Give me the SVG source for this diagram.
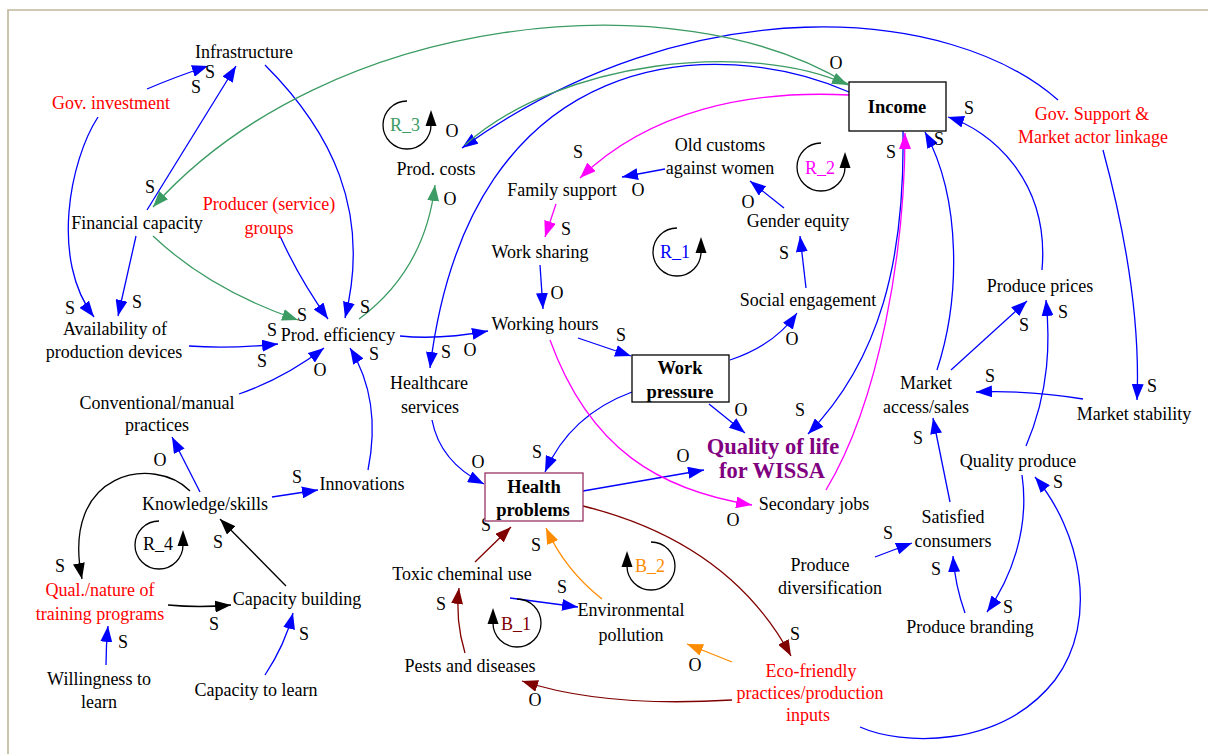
<svg xmlns="http://www.w3.org/2000/svg" width="1208" height="754" viewBox="0 0 1208 754" font-family="Liberation Serif, DejaVu Serif, serif">
<style>
text{font-family:'Liberation Serif','DejaVu Serif',serif;font-size:18px;fill:#000;text-anchor:middle}
.red{fill:#ff0000}
.bold{font-weight:bold;font-size:18.5px}
.qol{font-weight:bold;font-size:22.5px;fill:#800080}
.box{fill:#fff;stroke:#000;stroke-width:1.3}
#conn path{fill:none;stroke-width:1.3}
.cb{stroke:#0000ff;marker-end:url(#mb)}
.cg{stroke:#3c9c64;marker-end:url(#mg)}
.cm{stroke:#ff00ff;marker-end:url(#mm)}
.cr{stroke:#800000;marker-end:url(#mr)}
.co{stroke:#ff8c00;marker-end:url(#mo)}
.ck{stroke:#000;marker-end:url(#mk)}
.loop{fill:none;stroke:#000;stroke-width:1.3;marker-end:url(#ml)}
</style>
<defs>
<marker id="mb" viewBox="0 0 16 12" markerWidth="16" markerHeight="12" refX="16" refY="6" orient="auto" markerUnits="userSpaceOnUse"><path d="M0,0 L16,6 L0,12 z" fill="#0000ff"/></marker>
<marker id="mg" viewBox="0 0 16 12" markerWidth="16" markerHeight="12" refX="16" refY="6" orient="auto" markerUnits="userSpaceOnUse"><path d="M0,0 L16,6 L0,12 z" fill="#3c9c64"/></marker>
<marker id="mm" viewBox="0 0 16 12" markerWidth="16" markerHeight="12" refX="16" refY="6" orient="auto" markerUnits="userSpaceOnUse"><path d="M0,0 L16,6 L0,12 z" fill="#ff00ff"/></marker>
<marker id="mr" viewBox="0 0 16 12" markerWidth="16" markerHeight="12" refX="16" refY="6" orient="auto" markerUnits="userSpaceOnUse"><path d="M0,0 L16,6 L0,12 z" fill="#800000"/></marker>
<marker id="mo" viewBox="0 0 16 12" markerWidth="16" markerHeight="12" refX="16" refY="6" orient="auto" markerUnits="userSpaceOnUse"><path d="M0,0 L16,6 L0,12 z" fill="#ff8c00"/></marker>
<marker id="mk" viewBox="0 0 16 12" markerWidth="16" markerHeight="12" refX="16" refY="6" orient="auto" markerUnits="userSpaceOnUse"><path d="M0,0 L16,6 L0,12 z" fill="#000"/></marker>
<marker id="ml" viewBox="0 0 16 12" markerWidth="16" markerHeight="12" refX="1" refY="6" orient="auto" markerUnits="userSpaceOnUse"><path d="M0,0.5 L16,6 L0,11.5 z" fill="#000"/></marker>
</defs>
<rect width="1208" height="754" fill="#fff"/>
<path d="M8,754 L8,10 L1208,10" fill="none" stroke="#bfb69c" stroke-width="1.6"/>

<g id="conn">
<!-- blue -->
<path class="cb" d="M147,89 Q175,77 208,66"/>
<path class="cb" d="M147,210 L236,66"/>
<path class="cb" d="M98,117 C70,160 50,260 94,317"/>
<path class="cb" d="M136,236 L118,316"/>
<path class="cb" d="M265,65 C330,130 372,210 345,318"/>
<path class="cb" d="M280,236 Q300,280 328,319"/>
<path class="cb" d="M189,346 Q230,349 278,344"/>
<path class="cb" d="M239,394 Q285,378 324,348"/>
<path class="cb" d="M368,470 Q382,400 350,348"/>
<path class="cb" d="M400,336 Q440,340 488,331"/>
<path class="cb" d="M200,492 L172,437"/>
<path class="cb" d="M272,497 L318,490"/>
<path class="cb" d="M106,665 Q106,645 108,626"/>
<path class="cb" d="M265,675 Q285,645 293,613"/>
<path class="cb" d="M1058,100 C950,5 690,-15 462,148"/>
<path class="cb" d="M849,92 C720,35 470,40 430,368"/>
<path class="cb" d="M665,169 L622,177"/>
<path class="cb" d="M784,208 L750,181"/>
<path class="cb" d="M806,288 L800,236"/>
<path class="cb" d="M730,360 Q775,345 797,313"/>
<path class="cb" d="M540,265 L543,309"/>
<path class="cb" d="M578,338 L631,356"/>
<path class="cb" d="M632,392 Q570,415 545,472"/>
<path class="cb" d="M709,404 L745,433"/>
<path class="cb" d="M903,131 C905,260 880,360 808,434"/>
<path class="cb" d="M432,420 Q440,462 484,484"/>
<path class="cb" d="M583,491 L704,470"/>
<path class="cb" d="M510,598 L578,607"/>
<path class="cb" d="M937,370 C960,300 962,200 925,132"/>
<path class="cb" d="M1042,270 C1050,180 990,130 948,117"/>
<path class="cb" d="M1103,150 C1130,250 1140,330 1137,400"/>
<path class="cb" d="M951,370 L1027,301"/>
<path class="cb" d="M1026,446 C1050,390 1050,340 1046,300"/>
<path class="cb" d="M1083,399 Q1030,390 976,392"/>
<path class="cb" d="M950,502 L933,418"/>
<path class="cb" d="M1022,475 C1030,530 1010,580 987,612"/>
<path class="cb" d="M965,613 Q955,585 953,556"/>
<path class="cb" d="M875,557 L912,543"/>
<path class="cb" d="M860,727 C900,745 1000,750 1055,680 C1100,620 1080,530 1035,477"/>
<!-- green -->
<path class="cg" d="M153,236 Q210,290 298,320"/>
<path class="cg" d="M359,319 Q425,270 435,185"/>
<path class="cg" d="M465,145 C560,60 750,40 848,85"/>
<path class="cg" d="M848,84 C680,-20 330,10 153,207"/>
<!-- magenta -->
<path class="cm" d="M849,95 C750,90 650,110 580,178"/>
<path class="cm" d="M556,204 L545,237"/>
<path class="cm" d="M550,340 C590,450 660,490 752,505"/>
<path class="cm" d="M826,490 C880,400 905,250 905,133"/>
<!-- dark red -->
<path class="cr" d="M583,506 C680,530 750,580 791,656"/>
<path class="cr" d="M475,562 L511,527"/>
<path class="cr" d="M465,653 Q455,620 459,588"/>
<path class="cr" d="M732,700 C650,705 580,700 522,681"/>
<!-- orange -->
<path class="co" d="M602,599 Q565,570 546,528"/>
<path class="co" d="M732,662 L687,644"/>
<!-- black -->
<path class="ck" d="M190,491 C155,455 60,470 82,579"/>
<path class="ck" d="M168,605 Q200,608 231,605"/>
<path class="ck" d="M286,586 L220,519"/>
</g>

<g id="polarity">
<text x="210" y="78">S</text><text x="196" y="93">S</text><text x="150" y="193">S</text>
<text x="70" y="314">S</text><text x="137" y="308">S</text><text x="302" y="321">S</text>
<text x="272" y="336">S</text><text x="365" y="313">S</text><text x="262" y="367">S</text>
<text x="374" y="360">S</text><text x="320" y="376">O</text><text x="160" y="466">O</text>
<text x="297" y="483">S</text><text x="60" y="572">S</text><text x="123" y="648">S</text>
<text x="214" y="630">S</text><text x="218" y="548">S</text><text x="304" y="640">S</text>
<text x="452" y="137">O</text><text x="450" y="205">O</text><text x="836" y="69">O</text>
<text x="578" y="158">S</text><text x="638" y="196">O</text><text x="748" y="208">O</text>
<text x="566" y="235">S</text><text x="557" y="299">O</text><text x="784" y="259">S</text>
<text x="446" y="358">S</text><text x="470" y="356">O</text><text x="621" y="341">S</text>
<text x="792" y="345">O</text><text x="537" y="458">S</text><text x="741" y="416">O</text>
<text x="800" y="416">S</text><text x="478" y="468">O</text><text x="683" y="462">O</text>
<text x="733" y="526">O</text><text x="486" y="531">S</text><text x="536" y="551">S</text>
<text x="441" y="610">S</text><text x="562" y="593">S</text><text x="535" y="706">O</text>
<text x="695" y="671">O</text><text x="795" y="640">S</text><text x="891" y="158">S</text>
<text x="939" y="145">S</text><text x="969" y="114">S</text><text x="1024" y="331">S</text>
<text x="1063" y="318">S</text><text x="990" y="382">S</text><text x="1152" y="392">S</text>
<text x="918" y="444">S</text><text x="1058" y="488">S</text><text x="888" y="539">S</text>
<text x="936" y="575">S</text><text x="1008" y="613">S</text>
</g>

<g id="loops">
<g id="loop-R3"><path class="loop" d="M407,101 A24,24 0 1 0 431,125"/><text x="405" y="131" style="fill:#3c9c64">R_3</text></g>
<g id="loop-R2"><path class="loop" d="M821,143 A24,24 0 1 0 845,167"/><text x="820" y="174" style="fill:#ff00ff">R_2</text></g>
<g id="loop-R1"><path class="loop" d="M677,228 A24,24 0 1 0 701,252"/><text x="675" y="258" style="fill:#0000ff">R_1</text></g>
<g id="loop-R4"><path class="loop" d="M159,521 A24,24 0 1 0 183,545"/><text x="158" y="550">R_4</text></g>
<g id="loop-B1"><path class="loop" d="M517,599 A24,24 0 1 1 493,623"/><text x="516" y="630" style="fill:#800000">B_1</text></g>
<g id="loop-B2"><path class="loop" d="M651,542 A24,24 0 1 1 627,566"/><text x="650" y="572" style="fill:#ff8c00">B_2</text></g>
</g>

<g id="n-infrastructure"><text x="244" y="58">Infrastructure</text></g>
<g id="n-govinvestment"><text class="red" x="111" y="109">Gov. investment</text></g>
<g id="n-financial"><text x="137" y="229">Financial capacity</text></g>
<g id="n-producer"><text class="red" x="269" y="210">Producer (service)</text><text class="red" x="269" y="234">groups</text></g>
<g id="n-availability"><text x="115" y="335">Availability of</text><text x="114" y="358">production devices</text></g>
<g id="n-prodeff"><text x="338" y="341">Prod. efficiency</text></g>
<g id="n-prodcosts"><text x="436" y="175">Prod. costs</text></g>
<g id="n-conventional"><text x="157" y="409">Conventional/manual</text><text x="157" y="431">practices</text></g>
<g id="n-knowledge"><text x="205" y="510">Knowledge/skills</text></g>
<g id="n-innovations"><text x="362" y="490">Innovations</text></g>
<g id="n-qualnature"><text class="red" x="100" y="596">Qual./nature of</text><text class="red" x="100" y="620">training programs</text></g>
<g id="n-capbuilding"><text x="297" y="605">Capacity building</text></g>
<g id="n-willingness"><text x="99" y="685">Willingness to</text><text x="99" y="708">learn</text></g>
<g id="n-caplearn"><text x="256" y="696">Capacity to learn</text></g>
<g id="n-income"><rect class="box" x="849" y="82" width="97" height="49"/><text class="bold" x="897" y="113">Income</text></g>
<g id="n-govsupport"><text class="red" x="1092" y="120">Gov. Support &amp;</text><text class="red" x="1093" y="143">Market actor linkage</text></g>
<g id="n-oldcustoms"><text x="720" y="151">Old customs</text><text x="720" y="174">against women</text></g>
<g id="n-family"><text x="562" y="196">Family support</text></g>
<g id="n-gender"><text x="798" y="227">Gender equity</text></g>
<g id="n-worksharing"><text x="540" y="258">Work sharing</text></g>
<g id="n-social"><text x="808" y="306">Social engagement</text></g>
<g id="n-workinghours"><text x="545" y="330">Working hours</text></g>
<g id="n-workpressure"><rect class="box" x="632" y="355" width="97" height="47"/><text class="bold" x="680" y="374">Work</text><text class="bold" x="680" y="398">pressure</text></g>
<g id="n-healthcare"><text x="429" y="389">Healthcare</text><text x="430" y="413">services</text></g>
<g id="n-qol"><text class="qol" x="773" y="454">Quality of life</text><text class="qol" x="772" y="478">for WISSA</text></g>
<g id="n-health"><rect x="485" y="473" width="98" height="48" fill="#fff" stroke="#993366" stroke-width="1.3"/><text class="bold" x="534" y="493">Health</text><text class="bold" x="533" y="516">problems</text></g>
<g id="n-secondary"><text x="814" y="510">Secondary jobs</text></g>
<g id="n-prices"><text x="1040" y="292">Produce prices</text></g>
<g id="n-market"><text x="926" y="389">Market</text><text x="926" y="413">access/sales</text></g>
<g id="n-stability"><text x="1134" y="420">Market stability</text></g>
<g id="n-qualityproduce"><text x="1018" y="467">Quality produce</text></g>
<g id="n-satisfied"><text x="953" y="523">Satisfied</text><text x="953" y="547">consumers</text></g>
<g id="n-diversification"><text x="820" y="571">Produce</text><text x="830" y="594">diversification</text></g>
<g id="n-branding"><text x="970" y="633">Produce branding</text></g>
<g id="n-toxic"><text x="462" y="580">Toxic cheminal use</text></g>
<g id="n-envpollution"><text x="631" y="616">Environmental</text><text x="631" y="641">pollution</text></g>
<g id="n-pests"><text x="470" y="672">Pests and diseases</text></g>
<g id="n-eco"><text class="red" x="811" y="677">Eco-friendly</text><text class="red" x="810" y="699">practices/production</text><text class="red" x="808" y="721">inputs</text></g>
</svg>
